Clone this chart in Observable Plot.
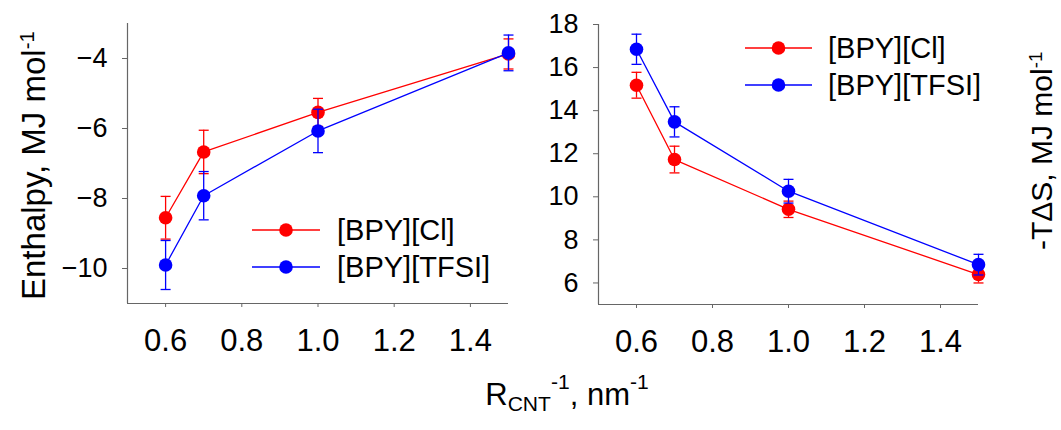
<!DOCTYPE html>
<html>
<head>
<meta charset="utf-8">
<script src="https://cdn.jsdelivr.net/npm/d3@7"></script>
<script src="https://cdn.jsdelivr.net/npm/@observablehq/plot@0.6"></script>
<style>
  html, body { margin: 0; padding: 0; background: #fff; }
  #chart { position: relative; width: 1061px; height: 430px; font-family: "Liberation Sans", Arial, sans-serif; color: #000; }
  #chart svg { position: absolute; top: 0; font-family: "Liberation Sans", Arial, sans-serif; overflow: visible; max-width: none; }
  #chart g[aria-label="x-axis tick label"] text { font-size: 31px; }
  #chart g[aria-label="y-axis tick label"] text { font-size: 27px; }
  #xlabel { position: absolute; top: 371px; left: 0; width: 1134px; text-align: center; font-size: 31px; line-height: 1; white-space: nowrap; }
  #xlabel sub { font-size: 0.68em; vertical-align: -0.3em; }
  #xlabel sup { font-size: 0.68em; vertical-align: 0.75em; }
</style>
</head>
<body>
<div id="chart"></div>
<script>
// ---- data ----
const rInv = [0.6, 0.7, 1.0, 1.5];
const seriesNames = ["[BPY][Cl]", "[BPY][TFSI]"];
const seriesColors = ["#ff0000", "#0000ff"];

const enthalpyCl      = [-8.55, -6.67, -5.54, -3.87];
const enthalpyClErr   = [0.61, 0.62, 0.40, 0.43];
const enthalpyTFSI    = [-9.90, -7.92, -6.07, -3.84];
const enthalpyTFSIErr = [0.70, 0.69, 0.62, 0.51];

const entropyCl       = [15.18, 11.73, 9.42, 6.39];
const entropyClErr    = [0.60, 0.62, 0.38, 0.39];
const entropyTFSI     = [16.85, 13.48, 10.26, 6.85];
const entropyTFSIErr  = [0.70, 0.70, 0.55, 0.48];

const xDomain = [0.5, 1.5];
const xTicks = [0.6, 0.8, 1.0, 1.2, 1.4];
const yDomainLeft = [-11, -3];
const yTicksLeft = [-10, -8, -6, -4];
const yDomainRight = [5, 18];
const yTicksRight = [6, 8, 10, 12, 14, 16, 18];

// ---- helpers ----
function rows(vals, errs, name) {
  return rInv.map((x, i) => ({x, y: vals[i], e: errs[i], series: name}));
}
const capSymbol = {
  draw(context, size) {
    const r = Math.sqrt(size / Math.PI);
    context.moveTo(-r, 0);
    context.lineTo(r, 0);
  }
};
function seriesMarks(data, color) {
  return [
    Plot.ruleX(data, {x: "x", y1: d => d.y - d.e, y2: d => d.y + d.e, stroke: color, strokeWidth: 1.3}),
    Plot.dot(data, {x: "x", y: d => d.y - d.e, symbol: capSymbol, r: 5, stroke: color, strokeWidth: 1.3, fill: "none"}),
    Plot.dot(data, {x: "x", y: d => d.y + d.e, symbol: capSymbol, r: 5, stroke: color, strokeWidth: 1.3, fill: "none"}),
    Plot.line(data, {x: "x", y: "y", stroke: color, strokeWidth: 1.3}),
    Plot.dot(data, {x: "x", y: "y", r: 6.8, fill: color, stroke: "none"})
  ];
}
function axes(yDomain, yTicks) {
  return [
    Plot.ruleX([xDomain[0]], {y1: yDomain[0], y2: yDomain[1], stroke: "#666", strokeWidth: 1.2}),
    Plot.ruleY([yDomain[0]], {x1: xDomain[0], x2: xDomain[1], stroke: "#666", strokeWidth: 1.2}),
    Plot.axisX({ticks: xTicks, tickFormat: d3.format(".1f"), tickSize: 4, tickPadding: 21, stroke: "#666", fill: "#000", fontSize: 31, label: null}),
    Plot.axisY({ticks: yTicks, tickSize: 5, tickPadding: 15, stroke: "#666", fill: "#000", fontSize: 27, label: null})
  ];
}
function legend(svg, lx1, lx2, tx, ys) {
  const g = d3.select(svg).append("g").attr("class", "legend").attr("text-anchor", "start");
  seriesNames.forEach((name, i) => {
    g.append("line").attr("x1", lx1).attr("x2", lx2).attr("y1", ys[i]).attr("y2", ys[i])
      .attr("stroke", seriesColors[i]).attr("stroke-width", 1.3);
    g.append("circle").attr("cx", (lx1 + lx2) / 2).attr("cy", ys[i]).attr("r", 6.8).attr("fill", seriesColors[i]);
    g.append("text").attr("x", tx).attr("y", ys[i]).attr("dy", "0.36em").attr("text-anchor", "start")
      .attr("font-size", 29).attr("fill", "#000").text(name);
  });
}
function ylabel(svg, x, y, main, size) {
  const t = d3.select(svg).append("text")
    .attr("transform", `translate(${x},${y}) rotate(-90)`)
    .attr("text-anchor", "start").attr("font-size", size).attr("fill", "#000");
  t.append("tspan").text(main);
  t.append("tspan").attr("dy", "-0.55em").attr("font-size", size * 0.62).text("-1");
}

// ---- left panel: enthalpy ----
const leftData = [rows(enthalpyCl, enthalpyClErr, seriesNames[0]), rows(enthalpyTFSI, enthalpyTFSIErr, seriesNames[1])];
const left = Plot.plot({
  width: 530, height: 430,
  marginLeft: 127, marginRight: 22, marginTop: 23, marginBottom: 127,
  x: {domain: xDomain},
  y: {domain: yDomainLeft},
  marks: [
    ...axes(yDomainLeft, yTicksLeft),
    ...seriesMarks(leftData[0], seriesColors[0]),
    ...seriesMarks(leftData[1], seriesColors[1])
  ]
});
left.style.left = "0px";
legend(left, 252, 320, 337, [230, 267]);
ylabel(left, 45, 300, "Enthalpy, MJ mol", 33);

// ---- right panel: -TΔS ----
const rightData = [rows(entropyCl, entropyClErr, seriesNames[0]), rows(entropyTFSI, entropyTFSIErr, seriesNames[1])];
const right = Plot.plot({
  width: 531, height: 430,
  marginLeft: 68, marginRight: 83, marginTop: 24, marginBottom: 126,
  x: {domain: xDomain},
  y: {domain: yDomainRight},
  marks: [
    ...axes(yDomainRight, yTicksRight),
    ...seriesMarks(rightData[0], seriesColors[0]),
    ...seriesMarks(rightData[1], seriesColors[1])
  ]
});
right.style.left = "530px";
legend(right, 215, 282, 298, [48, 85]);
ylabel(right, 522, 250, "-T\u0394S, MJ mol", 30);

const chart = document.getElementById("chart");
chart.append(left, right);
const xl = document.createElement("div");
xl.id = "xlabel";
xl.innerHTML = "R<sub>CNT</sub><sup>-1</sup>, nm<sup>-1</sup>";
chart.append(xl);
</script>
</body>
</html>
